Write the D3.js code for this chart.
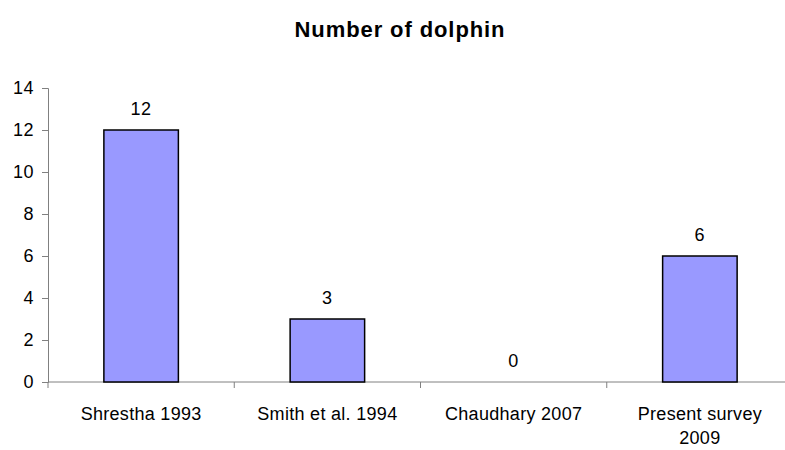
<!DOCTYPE html>
<html>
<head>
<meta charset="utf-8">
<script src="https://cdn.jsdelivr.net/npm/d3@7"></script>
<style>
    body { margin: 0; background: #fff; }
    svg { display: block; font-family: "Liberation Sans", Arial, sans-serif; }
</style>
</head>
<body>
<div class="graph"></div>
<script>
// Data
const categories = ["Shrestha 1993", "Smith et al. 1994", "Chaudhary 2007", "Present survey 2009"];
const counts = [12, 3, 0, 6];
const yTicks = [0, 2, 4, 6, 8, 10, 12, 14];
const chartTitle = "Number of dolphin";

const dimensions = {
    width: 785,
    height: 450,
    margins: { top: 88, right: -8, bottom: 68, left: 48 }
};
dimensions.boundedWidth = dimensions.width - dimensions.margins.left - dimensions.margins.right;
dimensions.boundedHeight = dimensions.height - dimensions.margins.top - dimensions.margins.bottom;

const data = categories.map((c, i) => ({ name: c, value: counts[i] }));

const wrapper = d3.select(".graph")
    .append("svg")
        .attr("width", dimensions.width)
        .attr("height", dimensions.height);

const bounds = wrapper.append("g")
    .attr("transform", `translate(${dimensions.margins.left},${dimensions.margins.top})`);

const xScale = d3.scaleBand()
    .domain(categories)
    .range([0, dimensions.boundedWidth])
    .paddingInner(0.6)
    .paddingOuter(0.3);

// band edges for the tick marks (Excel style ticks between categories)
const step = xScale.step();
const x0 = xScale(categories[0]) - xScale.paddingOuter() * step;

const yScale = d3.scaleLinear()
    .domain([0, 14])
    .range([dimensions.boundedHeight, 0]);

const axisColor = "#808080";
const labelSize = 18;

// title
wrapper.append("text")
    .attr("x", 400)
    .attr("y", 37)
    .attr("text-anchor", "middle")
    .attr("font-size", 22)
    .attr("font-weight", "bold")
    .attr("letter-spacing", 0.9)
    .text(chartTitle);

// y axis
const yAxis = bounds.append("g")
    .call(d3.axisLeft(yScale).tickValues(yTicks).tickSize(6).tickPadding(8));
yAxis.select(".domain").attr("stroke", axisColor);
yAxis.selectAll(".tick line").attr("stroke", axisColor);
yAxis.selectAll(".tick text")
    .attr("font-size", labelSize)
    .attr("letter-spacing", 0.5)
    .attr("fill", "#000")
    .attr("font-family", "Liberation Sans, Arial, sans-serif");

// x axis line and ticks between categories
const xAxisG = bounds.append("g")
    .attr("transform", `translate(0,${dimensions.boundedHeight})`);
xAxisG.append("line")
    .attr("x1", 0)
    .attr("x2", dimensions.boundedWidth)
    .attr("stroke", axisColor);
xAxisG.selectAll(".xtick")
    .data(d3.range(categories.length + 1))
    .join("line")
        .attr("class", "xtick")
        .attr("x1", i => x0 + i * step)
        .attr("x2", i => x0 + i * step)
        .attr("y1", 0)
        .attr("y2", 6)
        .attr("stroke", axisColor);

// category labels, wrapped like the original
const labelLines = {
    "Present survey 2009": ["Present survey", "2009"]
};
const labels = xAxisG.selectAll(".xlabel")
    .data(categories)
    .join("text")
        .attr("class", "xlabel")
        .attr("text-anchor", "middle")
        .attr("font-size", labelSize)
        .attr("letter-spacing", 0.3)
        .attr("transform", d => `translate(${xScale(d) + xScale.bandwidth() / 2},38)`);
labels.each(function(d) {
    const lines = labelLines[d] || [d];
    d3.select(this).selectAll("tspan")
        .data(lines)
        .join("tspan")
            .attr("x", 0)
            .attr("dy", (l, i) => i === 0 ? 0 : 24)
            .text(l => l);
});

// bars
bounds.selectAll(".bar")
    .data(data.filter(d => d.value > 0))
    .join("rect")
        .attr("class", "bar")
        .attr("x", d => xScale(d.name))
        .attr("y", d => yScale(d.value))
        .attr("width", xScale.bandwidth())
        .attr("height", d => yScale(0) - yScale(d.value))
        .attr("fill", "#9999ff")
        .attr("stroke", "#000")
        .attr("stroke-width", 1.5);

// value labels
bounds.selectAll(".val")
    .data(data)
    .join("text")
        .attr("class", "val")
        .attr("x", d => xScale(d.name) + xScale.bandwidth() / 2)
        .attr("y", d => yScale(d.value) - 15)
        .attr("text-anchor", "middle")
        .attr("font-size", labelSize)
        .attr("letter-spacing", 0.5)
        .text(d => d.value);
</script>
</body>
</html>
